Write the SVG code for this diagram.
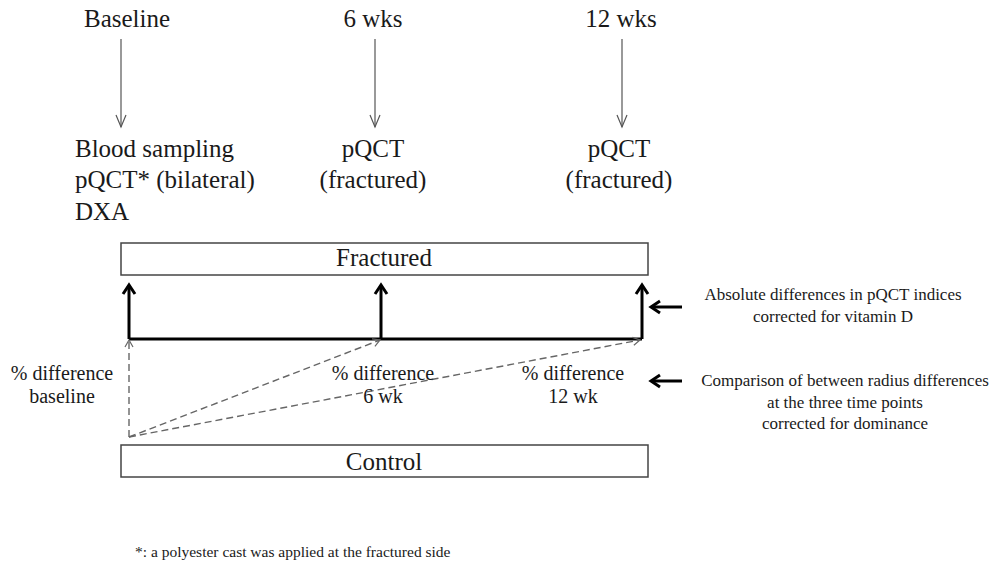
<svg xmlns="http://www.w3.org/2000/svg" width="992" height="573" viewBox="0 0 992 573" font-family="'Liberation Serif','Times New Roman',serif">
<style>
text{font-family:"Liberation Serif","Times New Roman",serif;fill:#1a1a1a}
.t25{font-size:25px}
.t20{font-size:20px}
.t16{font-size:17px}
.t13{font-size:15.5px}
.box{fill:#fff;stroke:#444;stroke-width:1.5}
.thin{stroke:#555;stroke-width:1.2;fill:none}
.thick{stroke:#000;stroke-width:3;fill:none}
.dash{stroke:#666;stroke-width:1.4;stroke-dasharray:7 4;fill:none}
</style>
<defs>
<marker id="mThin" markerUnits="userSpaceOnUse" markerWidth="14" markerHeight="12" refX="13" refY="6" orient="auto" overflow="visible">
<path d="M1,1 L13,6 L1,11" fill="none" stroke="#555" stroke-width="1.2"/>
</marker>
<marker id="mThick" markerUnits="userSpaceOnUse" markerWidth="14" markerHeight="16" refX="12" refY="8" orient="auto" overflow="visible">
<path d="M3,2 L12,8 L3,14" fill="none" stroke="#000" stroke-width="3"/>
</marker>
<marker id="mDash" markerUnits="userSpaceOnUse" markerWidth="10" markerHeight="10" refX="9" refY="5" orient="auto" overflow="visible">
<path d="M2,1 L9,5 L2,9" fill="none" stroke="#666" stroke-width="1.2"/>
</marker>
</defs>

<g id="timepoints">
<g id="tp-baseline"><text class="t25" x="127" y="27" text-anchor="middle">Baseline</text></g>
<g id="tp-6wks"><text class="t25" x="373" y="27" text-anchor="middle">6 wks</text></g>
<g id="tp-12wks"><text class="t25" x="621" y="27" text-anchor="middle">12 wks</text></g>
</g>

<g id="measurements">
<g id="m-baseline">
<text class="t25" x="75" y="157">Blood sampling</text>
<text class="t25" x="75" y="188">pQCT* (bilateral)</text>
<text class="t25" x="75" y="220">DXA</text>
</g>
<g id="m-6wks">
<text class="t25" x="373" y="157" text-anchor="middle">pQCT</text>
<text class="t25" x="373" y="188" text-anchor="middle">(fractured)</text>
</g>
<g id="m-12wks">
<text class="t25" x="619" y="157" text-anchor="middle">pQCT</text>
<text class="t25" x="619" y="188" text-anchor="middle">(fractured)</text>
</g>
</g>

<g id="fractured">
<rect class="box" x="121" y="243" width="527" height="32"/>
<text class="t25" x="384" y="266" text-anchor="middle">Fractured</text>
</g>

<g id="control">
<rect class="box" x="121" y="445" width="527" height="32"/>
<text class="t25" x="384" y="470" text-anchor="middle">Control</text>
</g>

<g id="connectors">
<line class="thin" x1="121" y1="39" x2="121" y2="127" marker-end="url(#mThin)"/>
<line class="thin" x1="375" y1="39" x2="375" y2="127" marker-end="url(#mThin)"/>
<line class="thin" x1="622" y1="39" x2="622" y2="127" marker-end="url(#mThin)"/>

<polyline class="thick" points="129,339 642,339"/>
<line class="thick" x1="129" y1="339" x2="129" y2="285" marker-end="url(#mThick)"/>
<line class="thick" x1="381" y1="339" x2="381" y2="285" marker-end="url(#mThick)"/>
<line class="thick" x1="642" y1="339" x2="642" y2="285" marker-end="url(#mThick)"/>

<line class="dash" x1="129" y1="437" x2="129" y2="340" marker-end="url(#mDash)"/>
<line class="dash" x1="129" y1="437" x2="380" y2="340" marker-end="url(#mDash)"/>
<line class="dash" x1="129" y1="437" x2="640" y2="340" marker-end="url(#mDash)"/>

<line class="thick" x1="682" y1="307" x2="651" y2="307" marker-end="url(#mThick)"/>
<line class="thick" x1="682" y1="381" x2="651" y2="381" marker-end="url(#mThick)"/>
</g>

<g id="diff-labels">
<g id="d-baseline">
<text class="t20" x="62" y="380" text-anchor="middle">% difference</text>
<text class="t20" x="62" y="403" text-anchor="middle">baseline</text>
</g>
<g id="d-6wk">
<text class="t20" x="383" y="380" text-anchor="middle">% difference</text>
<text class="t20" x="383" y="403" text-anchor="middle">6 wk</text>
</g>
<g id="d-12wk">
<text class="t20" x="573" y="380" text-anchor="middle">% difference</text>
<text class="t20" x="573" y="403" text-anchor="middle">12 wk</text>
</g>
</g>

<g id="note-absolute">
<text class="t16" x="833" y="300" text-anchor="middle">Absolute differences in pQCT indices</text>
<text class="t16" x="833" y="322" text-anchor="middle">corrected for vitamin D</text>
</g>

<g id="note-comparison">
<text class="t16" x="845" y="386" text-anchor="middle">Comparison of between radius differences</text>
<text class="t16" x="845" y="408" text-anchor="middle">at the three time points</text>
<text class="t16" x="845" y="429" text-anchor="middle">corrected for dominance</text>
</g>

<g id="footnote">
<text class="t13" x="135" y="557">*: a polyester cast was applied at the fractured side</text>
</g>
</svg>
